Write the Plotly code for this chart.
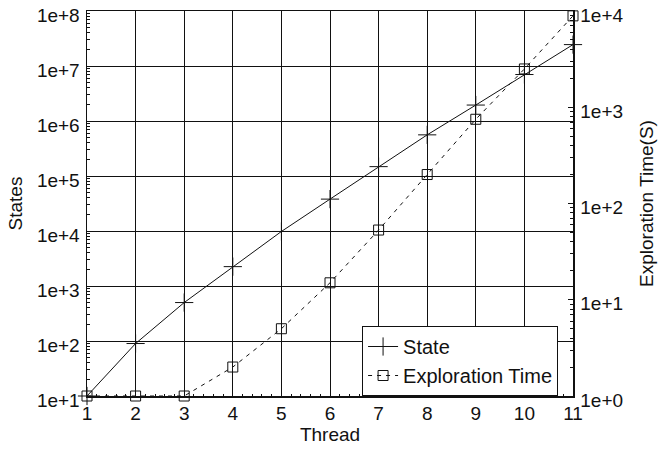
import plotly.graph_objects as go

threads = [1, 2, 3, 4, 5, 6, 7, 8, 9, 10, 11]
states = [10, 90, 500, 2250, 9800, 38000, 148000, 560000, 1950000, 7000000, 24500000]
exploration_time = [1, 1, 1, 2, 5, 15, 53, 200, 750, 2500, 8900]

left_tickvals = [1e1, 1e2, 1e3, 1e4, 1e5, 1e6, 1e7, 1e8]
left_ticktext = ["1e+1", "1e+2", "1e+3", "1e+4", "1e+5", "1e+6", "1e+7", "1e+8"]
right_tickvals = [1e0, 1e1, 1e2, 1e3, 1e4]
right_ticktext = ["1e+0", "1e+1", "1e+2", "1e+3", "1e+4"]
x_tickvals = threads
x_ticktext = [str(t) for t in threads]

# minor log ticks (2..9 within each decade)
left_minor = [m * d for d in left_tickvals[:-1] for m in range(2, 10)]
right_minor = [m * d for d in right_tickvals[:-1] for m in range(2, 10)]

FONT = "Liberation Sans, Arial, Helvetica, sans-serif"
INK = "#111111"
FS = 19

fig = go.Figure()
fig.add_trace(go.Scatter(
    x=threads, y=states, name="State", mode="lines+markers",
    line=dict(color=INK, width=1),
    marker=dict(symbol="cross-thin", size=13, line=dict(color=INK, width=1), color=INK),
    cliponaxis=False, yaxis="y", hoverinfo="skip",
))
fig.add_trace(go.Scatter(
    x=threads, y=exploration_time, name="Exploration Time", mode="lines+markers",
    line=dict(color=INK, width=1, dash="4px,5px"),
    marker=dict(symbol="square-open", size=10, line=dict(color=INK, width=1), color=INK),
    cliponaxis=False, yaxis="y2", hoverinfo="skip",
))

fig.update_layout(
    width=659, height=452,
    margin=dict(l=87, r=86, t=11, b=56, autoexpand=False),
    paper_bgcolor="white", plot_bgcolor="white",
    font=dict(family=FONT, size=FS, color=INK),
    hovermode=False,
    showlegend=True,
    legend=dict(
        x=0.566, y=0.0, xanchor="left", yanchor="bottom",
        bgcolor="white", bordercolor=INK, borderwidth=1,
        font=dict(family=FONT, size=20, color=INK),
        tracegroupgap=0, itemwidth=30,
    ),
    xaxis=dict(
        range=[1, 11], tickvals=x_tickvals, ticktext=x_ticktext,
        showgrid=True, gridcolor=INK, gridwidth=1,
        showline=True, linecolor=INK, linewidth=1.5, mirror=True,
        ticks="inside", ticklen=5, tickcolor=INK,
        minor=dict(ticks="inside", ticklen=2, dtick=0.2, tickcolor=INK, showgrid=False),
        zeroline=False, automargin=False,
        title=dict(text="Thread", standoff=3, font=dict(size=FS)),
    ),
    yaxis=dict(
        type="log", range=[1, 8], tickvals=left_tickvals, ticktext=left_ticktext,
        showgrid=True, gridcolor=INK, gridwidth=1,
        showline=True, linecolor=INK, linewidth=1.5, mirror=True,
        ticks="inside", ticklen=5, tickcolor=INK,
        minor=dict(ticks="inside", ticklen=3, tickcolor=INK, showgrid=False,
                   tickmode="array", tickvals=left_minor),
        ticklabelshift=4, ticklabelstandoff=2,
        zeroline=False, automargin=False,
        title=dict(text="States", standoff=9, font=dict(size=FS)),
    ),
    yaxis2=dict(
        type="log", range=[0, 4], tickvals=right_tickvals, ticktext=right_ticktext,
        overlaying="y", side="right", showgrid=False,
        showline=True, linecolor=INK, linewidth=1.5,
        ticks="inside", ticklen=5, tickcolor=INK,
        minor=dict(ticks="inside", ticklen=3, tickcolor=INK, showgrid=False,
                   tickmode="array", tickvals=right_minor),
        ticklabelshift=4, ticklabelstandoff=2,
        zeroline=False, automargin=False,
        title=dict(text="Exploration Time(S)", standoff=17, font=dict(size=FS)),
    ),
)

fig.write_html(
    "out.html",
    config={"displayModeBar": False, "staticPlot": True},
    post_script="document.body.style.margin='0';document.body.style.padding='0';",
)
